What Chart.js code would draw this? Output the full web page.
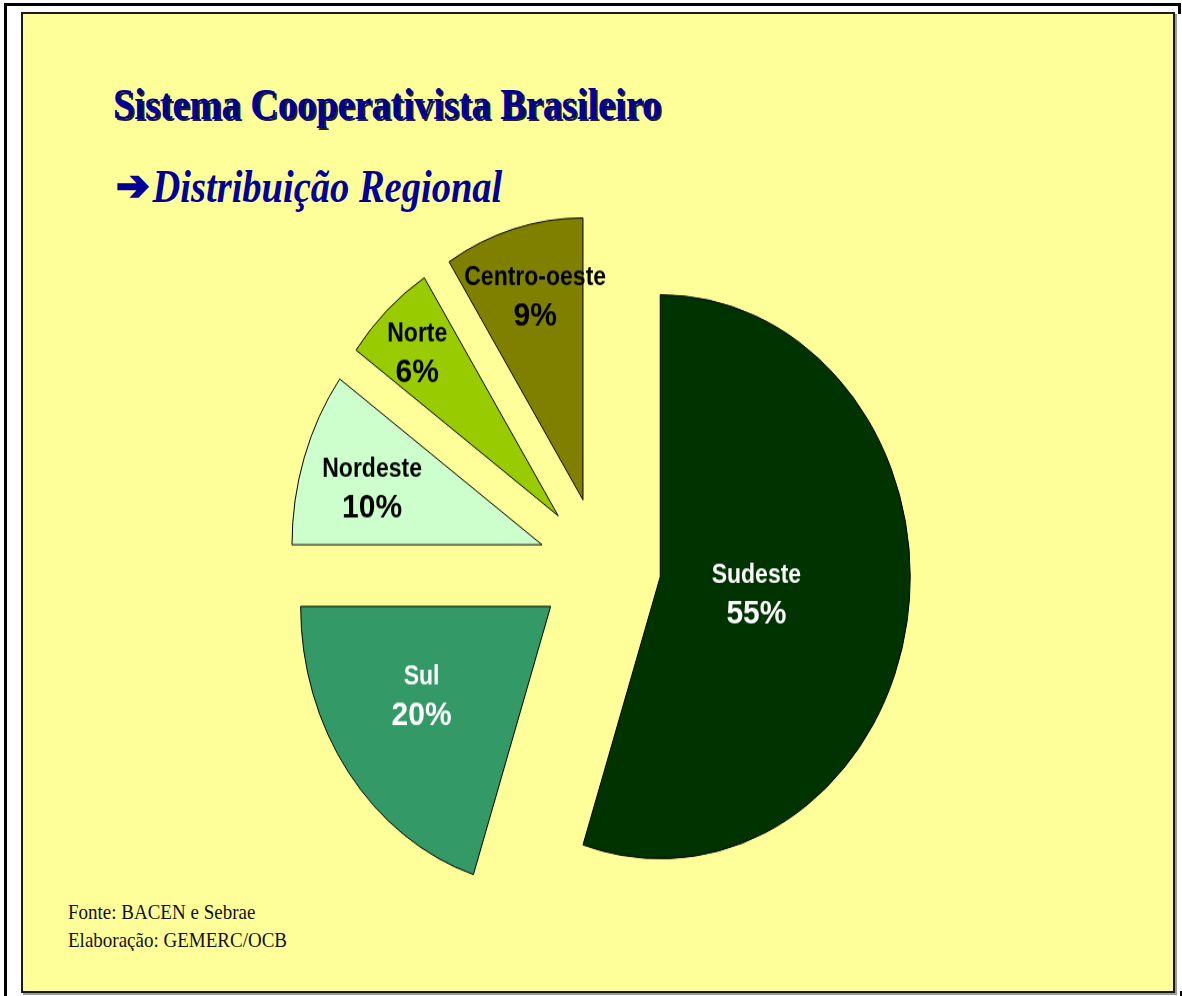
<!DOCTYPE html>
<html>
<head>
<meta charset="utf-8">
<script src="https://cdn.jsdelivr.net/npm/chart.js@4"></script>
<style>
  html, body { margin: 0; padding: 0; background: #ffffff; }
  body { width: 1182px; height: 996px; position: relative; overflow: hidden; }
  .line { position: absolute; background: #000; }
  #panel { position: absolute; left: 21px; top: 12px; width: 1150px; height: 977px;
           background: #FFFF99; border: 2px solid #1a1a1a; box-shadow: 2px 2px 0 #9a9a9a; }
  .title { position: absolute; left: 113px; top: 80px; font-family: "Liberation Serif", "Times New Roman", serif;
           font-weight: bold; font-size: 38.3px; color: #000099; white-space: nowrap;
           text-shadow: 2px 2px 0 #222; transform-origin: 0 0; transform: scaleY(1.17); line-height: 40px; }
  .subtitle { position: absolute; left: 116px; top: 162px; font-family: "Liberation Serif", "Times New Roman", serif;
           font-weight: bold; font-style: italic; font-size: 38.5px; color: #000099; white-space: nowrap;
           transform-origin: 0 0; transform: scaleY(1.19); line-height: 40px; }
  .arrow { font-family: "DejaVu Sans", sans-serif; font-style: normal; font-weight: bold; font-size: 40px;
           -webkit-text-stroke: 2px #000099; display: inline-block; transform: scaleY(0.88); margin-right: 3px; }
  .foot { position: absolute; left: 68px; top: 898px; font-family: "Liberation Serif", "Times New Roman", serif;
          font-size: 19px; color: #111; line-height: 26px; transform-origin: 0 0; transform: scaleY(1.08); }
  #wrap { position: absolute; left: 250px; top: 205px; width: 700px; height: 640px;
          transform-origin: 0 0; transform: scaleY(1.128); }
</style>
</head>
<body>
<div class="line" style="left:4px;top:3px;width:1177px;height:3px;"></div>
<div class="line" style="left:1178px;top:3px;width:3px;height:11px;"></div>
<div class="line" style="left:4px;top:3px;width:3px;height:993px;"></div>
<div class="line" style="left:1180px;top:991px;width:2px;height:5px;"></div>
<div id="panel"></div>
<div class="title">Sistema Cooperativista Brasileiro</div>
<div class="subtitle"><span class="arrow">➔</span>Distribuição Regional</div>
<div class="foot">Fonte: BACEN e Sebrae<br>Elaboração: GEMERC/OCB</div>
<div id="wrap"><canvas id="c" width="700" height="640"></canvas></div>
<script>
// ---- data ----
const regions = ["Sudeste", "Sul", "Nordeste", "Norte", "Centro-oeste"];
const shares = [55, 20, 10, 6, 9];

// ---- styling ----
const sliceColors = ["#003300", "#339966", "#CCFFCC", "#99CC00", "#808000"];
const labelColors = ["#ffffff", "#ffffff", "#000000", "#000000", "#000000"];
const labelRadius = [0.39, 0.607, 0.708, 0.806, 0.744];
const labelAngleTweak = [0.5, 4.3, -1.7, -1.2, 1.3]; // degrees
const EXPLODE = 61;

const explodePlugin = {
  id: 'explode',
  afterDatasetUpdate(chart, args) {
    const meta = chart.getDatasetMeta(args.index);
    const ca = chart.chartArea;
    const cx = (ca.left + ca.right) / 2, cy = (ca.top + ca.bottom) / 2;
    meta.data.forEach(el => {
      const mid = (el.startAngle + el.endAngle) / 2;
      el.x = cx + Math.cos(mid) * EXPLODE;
      el.y = cy + Math.sin(mid) * EXPLODE;
    });
  }
};

const labelPlugin = {
  id: 'sliceLabels',
  afterDatasetsDraw(chart) {
    const ctx = chart.ctx;
    const meta = chart.getDatasetMeta(0);
    const data = chart.data.datasets[0].data;
    const total = data.reduce((a, b) => a + b, 0);
    meta.data.forEach((el, i) => {
      const mid = (el.startAngle + el.endAngle) / 2 + labelAngleTweak[i] * Math.PI / 180;
      const r = labelRadius[i] * el.outerRadius;
      const x = el.x + Math.cos(mid) * r;
      const y = el.y + Math.sin(mid) * r;
      ctx.save();
      ctx.fillStyle = labelColors[i];
      ctx.textAlign = 'center';
      ctx.textBaseline = 'middle';
      ctx.font = 'bold 23px "Liberation Sans", Arial, sans-serif';
      ctx.fillText(chart.data.labels[i], x, y - 16.8);
      ctx.font = 'bold 30px "Liberation Sans", Arial, sans-serif';
      ctx.fillText(Math.round(data[i] / total * 100) + '%', x, y + 16.8);
      ctx.restore();
    });
  }
};

new Chart(document.getElementById('c'), {
  type: 'pie',
  data: {
    labels: regions,
    datasets: [{
      data: shares,
      backgroundColor: sliceColors,
      borderColor: '#000000',
      borderWidth: 1,
      borderJoinStyle: 'miter'
    }]
  },
  options: {
    responsive: false,
    animation: false,
    events: [],
    devicePixelRatio: 1,
    radius: 250,
    layout: { padding: 0 },
    plugins: { legend: { display: false }, tooltip: { enabled: false }, title: { display: false } }
  },
  plugins: [explodePlugin, labelPlugin]
});
</script>
</body>
</html>
